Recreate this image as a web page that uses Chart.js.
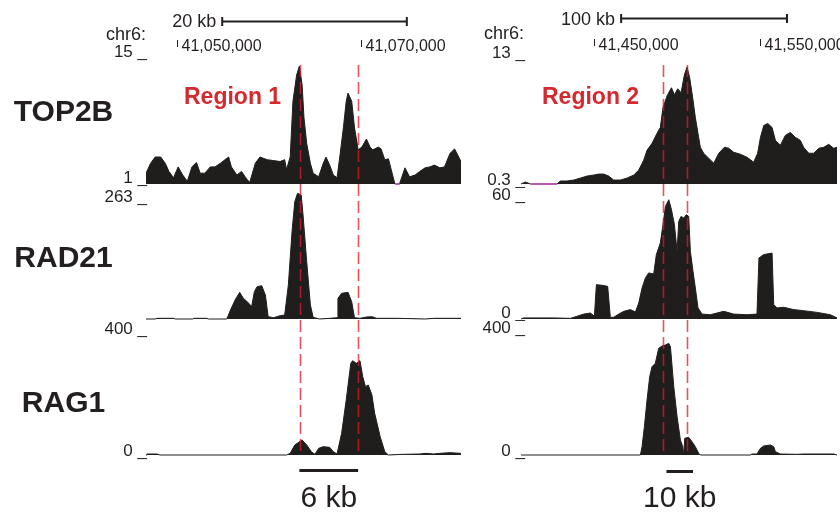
<!DOCTYPE html>
<html>
<head>
<meta charset="utf-8">
<script src="https://cdn.jsdelivr.net/npm/chart.js@4.4.0/dist/chart.umd.min.js"></script>
<style>
  html, body { margin: 0; padding: 0; background: #fff; }
  #figure { position: relative; width: 840px; height: 515px; overflow: hidden; }
  #figure canvas { position: absolute; }
</style>
</head>
<body>
<div id="figure"></div>
<script>
// positions are kb along chr6
const trackNames = ['TOP2B', 'RAD21', 'RAG1'];
const regionNames = ['Region 1', 'Region 2'];
const viewRanges = [[41046.6, 41080.9], [41406.2, 41596.5]];
const regionBounds = [[41063.4, 41069.7], [41491.7, 41506.4]];
const rulerTicks = [[41050, 41070], [41450, 41550]];
const topBars = [[41054.9, 41075.0], [41466.5, 41566.4]];
const topBarLabels = ['20 kb', '100 kb'];
const bottomBars = [[41063.3, 41069.7], [41493.8, 41509.8]];
const bottomBarLabels = ['6 kb', '10 kb'];
const yRangesLeft = [[1, 15], [0, 263], [0, 400]];
const yRangesRight = [[0.3, 13], [0, 60], [0, 400]];
const noDataLeft = [41073.9, 41074.2];
const noDataRight = [41411.9, 41427.9];

const top2bLeft = [[41046.6,2.2],[41047.1,3.3],[41047.6,4.0],[41048.2,4.0],[41048.7,3.3],[41049.1,2.4],[41049.6,1.7],[41050.1,2.9],[41050.6,2.0],[41051.1,1.3],[41051.6,2.9],[41052.1,3.4],[41052.5,2.2],[41053.0,2.2],[41053.6,2.9],[41054.1,2.9],[41054.7,3.3],[41055.2,3.7],[41055.6,4.0],[41055.9,2.9],[41056.5,2.0],[41057.0,2.4],[41057.6,1.5],[41057.9,1.2],[41058.5,3.3],[41059.0,4.0],[41059.8,3.7],[41060.5,3.6],[41061.2,3.5],[41061.7,3.7],[41061.9,2.6],[41062.3,4.0],[41062.6,10.2],[41063.0,13.1],[41063.3,14.1],[41063.6,12.0],[41063.8,8.4],[41064.1,5.5],[41064.5,3.3],[41064.8,2.2],[41065.4,1.8],[41065.9,3.3],[41066.2,4.0],[41066.6,3.1],[41067.0,2.0],[41067.4,1.7],[41067.7,4.0],[41068.1,7.3],[41068.4,10.2],[41068.6,11.1],[41069.0,10.2],[41069.3,7.3],[41069.7,4.8],[41070.1,5.1],[41070.6,6.0],[41071.0,5.1],[41071.3,4.8],[41071.9,5.1],[41072.2,4.9],[41072.6,3.7],[41073.0,3.8],[41073.3,2.6],[41073.7,1.0],[41074.2,1.0],[41074.8,2.8],[41075.3,1.8],[41075.9,2.0],[41076.4,2.4],[41077.0,2.8],[41077.5,2.9],[41078.0,3.1],[41078.6,2.8],[41079.1,2.9],[41079.7,4.4],[41080.2,4.9],[41080.9,3.5]];

const top2bRight = [[41406.2,0.3],[41408.9,0.5],[41411.9,0.3],[41427.9,0.3],[41429.9,0.6],[41433.9,0.6],[41438.0,0.7],[41442.0,0.9],[41446.0,1.1],[41450.0,1.2],[41453.0,1.3],[41456.0,1.3],[41459.0,1.1],[41462.0,0.7],[41466.1,0.7],[41470.1,0.9],[41474.1,1.2],[41477.1,1.7],[41480.1,2.7],[41482.1,3.7],[41485.1,4.4],[41488.1,5.4],[41490.1,6.0],[41491.7,8.0],[41494.2,9.2],[41496.8,10.0],[41498.6,9.3],[41500.6,9.9],[41502.6,9.5],[41504.6,11.3],[41506.2,12.1],[41507.8,11.0],[41509.6,9.0],[41511.2,7.0],[41512.8,5.4],[41514.2,4.0],[41516.2,3.4],[41519.2,2.9],[41522.3,2.4],[41525.3,3.4],[41528.7,4.0],[41531.3,3.9],[41534.3,3.5],[41538.3,3.3],[41542.3,3.0],[41546.3,2.5],[41548.7,3.4],[41550.4,5.0],[41552.4,6.2],[41554.8,6.4],[41557.4,6.0],[41559.4,4.7],[41562.4,4.2],[41565.4,5.2],[41568.4,5.5],[41571.4,5.0],[41574.4,4.7],[41576.4,4.0],[41579.5,3.4],[41582.5,3.4],[41585.5,3.9],[41588.5,4.0],[41591.5,4.3],[41594.5,3.9],[41596.5,4.0]];

const rad21Left = [[41046.6,0],[41047.6,0],[41047.8,1.4],[41049.6,1.4],[41049.8,0],[41051.7,0],[41051.8,1.4],[41053.2,1.4],[41053.4,0],[41055.4,0],[41055.8,18.5],[41056.3,39.0],[41056.8,54.8],[41057.2,42.5],[41057.8,32.2],[41058.1,25.3],[41058.4,56.2],[41058.7,66.4],[41059.2,68.5],[41059.6,49.3],[41059.9,4.8],[41060.5,2.7],[41061.2,6.8],[41061.7,8.2],[41062.1,69.9],[41062.5,179.4],[41062.8,241.1],[41063.1,258.2],[41063.5,254.8],[41063.7,213.7],[41064.1,117.8],[41064.5,28.8],[41064.8,3.4],[41065.5,0],[41066.6,1.4],[41067.4,2.7],[41067.5,42.5],[41067.9,52.7],[41068.6,54.8],[41069.0,35.6],[41069.3,2.7],[41069.9,1.4],[41070.6,4.1],[41071.2,4.8],[41071.7,1.4],[41074.0,1.4],[41077.0,0],[41078.0,1.4],[41080.9,1.4]];

const rad21Right = [[41406.2,0],[41407.9,0.5],[41415.9,0.5],[41425.9,0.5],[41436.0,0.3],[41440.0,1.3],[41444.0,2.3],[41448.0,2.8],[41450.4,1.3],[41451.6,16.1],[41455.0,15.8],[41458.4,15.3],[41460.0,0.8],[41462.0,0.8],[41465.1,2.3],[41468.1,3.6],[41472.1,4.4],[41475.1,3.3],[41477.1,7.5],[41479.1,14.5],[41481.1,19.2],[41483.1,21.6],[41486.1,21.1],[41487.7,30.2],[41490.1,35.6],[41491.7,44.2],[41493.2,52.8],[41495.2,55.9],[41496.8,51.3],[41498.6,44.2],[41500.2,31.7],[41501.2,45.8],[41502.6,48.1],[41504.2,47.3],[41505.8,48.9],[41507.2,48.1],[41508.2,31.7],[41509.8,22.3],[41511.2,14.5],[41512.8,5.2],[41515.2,2.3],[41520.2,2.0],[41528.3,3.6],[41534.3,2.3],[41542.3,2.0],[41548.3,2.3],[41549.5,28.6],[41552.4,30.2],[41557.4,30.9],[41558.4,6.7],[41560.4,5.2],[41564.4,5.5],[41570.4,4.4],[41576.4,3.9],[41584.5,3.1],[41592.5,2.0],[41596.5,0.5]];

const rag1Left = [[41046.6,0],[41046.7,3.1],[41047.8,3.1],[41048.1,0],[41061.9,0],[41062.3,5.2],[41062.8,31.3],[41063.6,46.9],[41064.1,31.3],[41064.6,10.4],[41065.0,2.1],[41065.4,20.8],[41065.9,26.0],[41066.6,24.0],[41067.0,10.4],[41067.4,3.1],[41067.9,67.7],[41068.4,171.9],[41068.9,286.5],[41069.1,294.8],[41069.5,286.5],[41069.9,294.8],[41070.2,244.8],[41070.5,213.5],[41070.8,218.8],[41071.2,187.5],[41071.5,130.2],[41072.1,57.3],[41072.6,10.4],[41073.0,0],[41074.6,2.1],[41076.4,3.1],[41077.1,5.2],[41077.9,3.1],[41078.6,5.2],[41079.7,7.3],[41080.9,5.2]];

const rag1Right = [[41406.2,0],[41478.1,0],[41479.1,26.0],[41480.5,88.5],[41482.1,171.9],[41483.7,244.8],[41485.1,276.0],[41487.1,286.5],[41489.1,333.3],[41491.1,340.6],[41493.2,343.8],[41495.2,349.0],[41496.2,338.5],[41498.2,213.5],[41500.2,119.8],[41502.2,46.9],[41503.6,26.0],[41504.2,0],[41504.8,52.1],[41507.2,55.2],[41509.2,41.7],[41511.2,26.0],[41513.2,5.2],[41514.2,0],[41544.3,0],[41545.3,3.1],[41548.3,3.1],[41550.4,20.8],[41552.4,28.1],[41556.4,31.3],[41558.4,26.0],[41559.4,10.4],[41562.4,3.1],[41572.4,2.1],[41576.4,3.1],[41584.5,3.1],[41594.5,3.1],[41596.5,0]];

const signals = [[top2bLeft, rad21Left, rag1Left], [top2bRight, rad21Right, rag1Right]];
const yRanges = [yRangesLeft, yRangesRight];
const noData = [noDataLeft, noDataRight];

// layout of the figure (page pixels)
const FONT = '"Liberation Sans", Arial, Helvetica, sans-serif';
const INK = '#231f20';
const RED = '#d42a2f';
const columns = [
    { left: 0, width: 466, padLeft: 146, padRight: 5, labelX: 147, chrY: 40, barY: 21.5, barLabelY: 27, tickY: 40, tickLabelY: 50.5, footY: 470.5, regionX: 184 },
    { left: 466, width: 374, padLeft: 55, padRight: 3, labelX: 525, chrY: 38.5, barY: 18.5, barLabelY: 25, tickY: 39, tickLabelY: 49.5, footY: 471.5, regionX: 542 }
];
const rows = [
    { top: 0, height: 188, padTop: 58, padBottom: 4, nameY: 121 },
    { top: 188, height: 133, padTop: 3, padBottom: 2, nameY: 267 },
    { top: 321, height: 194, padTop: 6, padBottom: 60, nameY: 412 }
];
// baseline shift of the "max _" / "min _" labels against the scale value
const labelShift = [
    [[-1, -1], [11, null], [6.5, 1]],
    [[0, 0.5], [9, -1], [6, 1]]
];

const trackDecor = {
    id: 'trackDecor',
    afterDatasetsDraw(chart, args, o) {
        const ctx = chart.ctx;
        const xs = chart.scales.x, ys = chart.scales.y;
        const area = chart.chartArea;
        const col = columns[o.col], row = rows[o.row];
        const ox = col.left, oy = row.top;
        ctx.save();

        // dashed region boundaries
        const startY = o.row === 0 ? 65 - oy : 0;
        const endY = o.row === 2 ? area.bottom : chart.height;
        ctx.strokeStyle = 'rgba(222, 24, 42, 0.75)';
        ctx.lineWidth = 1.6;
        ctx.setLineDash([12, 5]);
        ctx.lineDashOffset = oy + startY - 65;
        regionBounds[o.col].forEach(v => {
            const px = Math.round(xs.getPixelForValue(v)) + 0.5;
            ctx.beginPath();
            ctx.moveTo(px, startY);
            ctx.lineTo(px, endY);
            ctx.stroke();
        });
        ctx.setLineDash([]);

        ctx.fillStyle = INK;
        ctx.strokeStyle = INK;

        if (o.row === 0) {
            // scale bar
            const a = xs.getPixelForValue(topBars[o.col][0]);
            const b = xs.getPixelForValue(topBars[o.col][1]);
            ctx.lineWidth = 2;
            ctx.beginPath();
            ctx.moveTo(a, col.barY); ctx.lineTo(b, col.barY);
            ctx.moveTo(a, col.barY - 4.5); ctx.lineTo(a, col.barY + 4.5);
            ctx.moveTo(b, col.barY - 4.5); ctx.lineTo(b, col.barY + 4.5);
            ctx.stroke();
            ctx.font = '18px ' + FONT;
            ctx.textAlign = 'right';
            ctx.fillText(topBarLabels[o.col], a - 6, col.barLabelY);

            // coordinate ticks
            ctx.lineWidth = 1;
            ctx.font = '16px ' + FONT;
            ctx.textAlign = 'left';
            rulerTicks[o.col].forEach(t => {
                const p = Math.round(xs.getPixelForValue(t)) + 0.5;
                ctx.beginPath();
                ctx.moveTo(p, col.tickY); ctx.lineTo(p, col.tickY + 7);
                ctx.stroke();
                ctx.fillText((t * 1000).toLocaleString('en-US'), p + 4, col.tickLabelY);
            });

            ctx.font = '18px ' + FONT;
            ctx.textAlign = 'right';
            ctx.fillText('chr6:', col.labelX - ox - 1, col.chrY);

            ctx.fillStyle = RED;
            ctx.font = 'bold 23px ' + FONT;
            ctx.textAlign = 'left';
            ctx.fillText(regionNames[o.col], col.regionX - ox, 104);
            ctx.fillStyle = INK;
        }

        if (o.row === 2) {
            const a = xs.getPixelForValue(bottomBars[o.col][0]);
            const b = xs.getPixelForValue(bottomBars[o.col][1]);
            ctx.lineWidth = 3;
            ctx.beginPath();
            ctx.moveTo(a, col.footY - oy); ctx.lineTo(b, col.footY - oy);
            ctx.stroke();
            ctx.font = '30px ' + FONT;
            ctx.textAlign = 'center';
            ctx.fillText(bottomBarLabels[o.col], (a + b) / 2, 507 - oy);
        }

        // data range labels
        const [lo, hi] = yRanges[o.col][o.row];
        const shift = labelShift[o.col][o.row];
        ctx.font = '17px ' + FONT;
        ctx.textAlign = 'right';
        if (shift[0] !== null) ctx.fillText(hi + ' _', col.labelX - ox, ys.getPixelForValue(hi) + shift[0]);
        if (shift[1] !== null) ctx.fillText(lo + ' _', col.labelX - ox, ys.getPixelForValue(lo) + shift[1]);

        // track name
        if (o.col === 0) {
            ctx.font = 'bold 30px ' + FONT;
            ctx.textAlign = 'center';
            ctx.fillText(trackNames[o.row], 63.5, row.nameY - oy);
        }
        ctx.restore();
    }
};

const figure = document.getElementById('figure');

columns.forEach((col, c) => {
    rows.forEach((row, r) => {
        const canvas = document.createElement('canvas');
        canvas.width = col.width;
        canvas.height = row.height;
        canvas.style.left = col.left + 'px';
        canvas.style.top = row.top + 'px';
        figure.appendChild(canvas);

        const [lo, hi] = yRanges[c][r];
        const datasets = [{
            data: signals[c][r],
            fill: 'start',
            backgroundColor: '#1f1e1d',
            borderColor: '#1f1e1d',
            borderWidth: 1,
            pointRadius: 0,
            tension: 0,
            order: 1,
            clip: { left: 0, right: 0, top: 2, bottom: 2 }
        }];
        if (r === 0) {
            datasets.push({
                data: [[noData[c][0], lo], [noData[c][1], lo]],
                fill: false,
                borderColor: '#b35bb5',
                borderWidth: 2,
                pointRadius: 0,
                order: 0,
                clip: { left: 0, right: 0, top: 2, bottom: 2 }
            });
        }

        new Chart(canvas.getContext('2d'), {
            type: 'line',
            data: { datasets },
            options: {
                responsive: false,
                animation: false,
                events: [],
                layout: { padding: { left: col.padLeft, right: col.padRight, top: row.padTop, bottom: row.padBottom } },
                scales: {
                    x: { type: 'linear', min: viewRanges[c][0], max: viewRanges[c][1], display: false },
                    y: { type: 'linear', min: lo, max: hi, display: false }
                },
                plugins: {
                    legend: { display: false },
                    tooltip: { enabled: false },
                    trackDecor: { col: c, row: r }
                }
            },
            plugins: [trackDecor]
        });
    });
});
</script>
</body>
</html>
